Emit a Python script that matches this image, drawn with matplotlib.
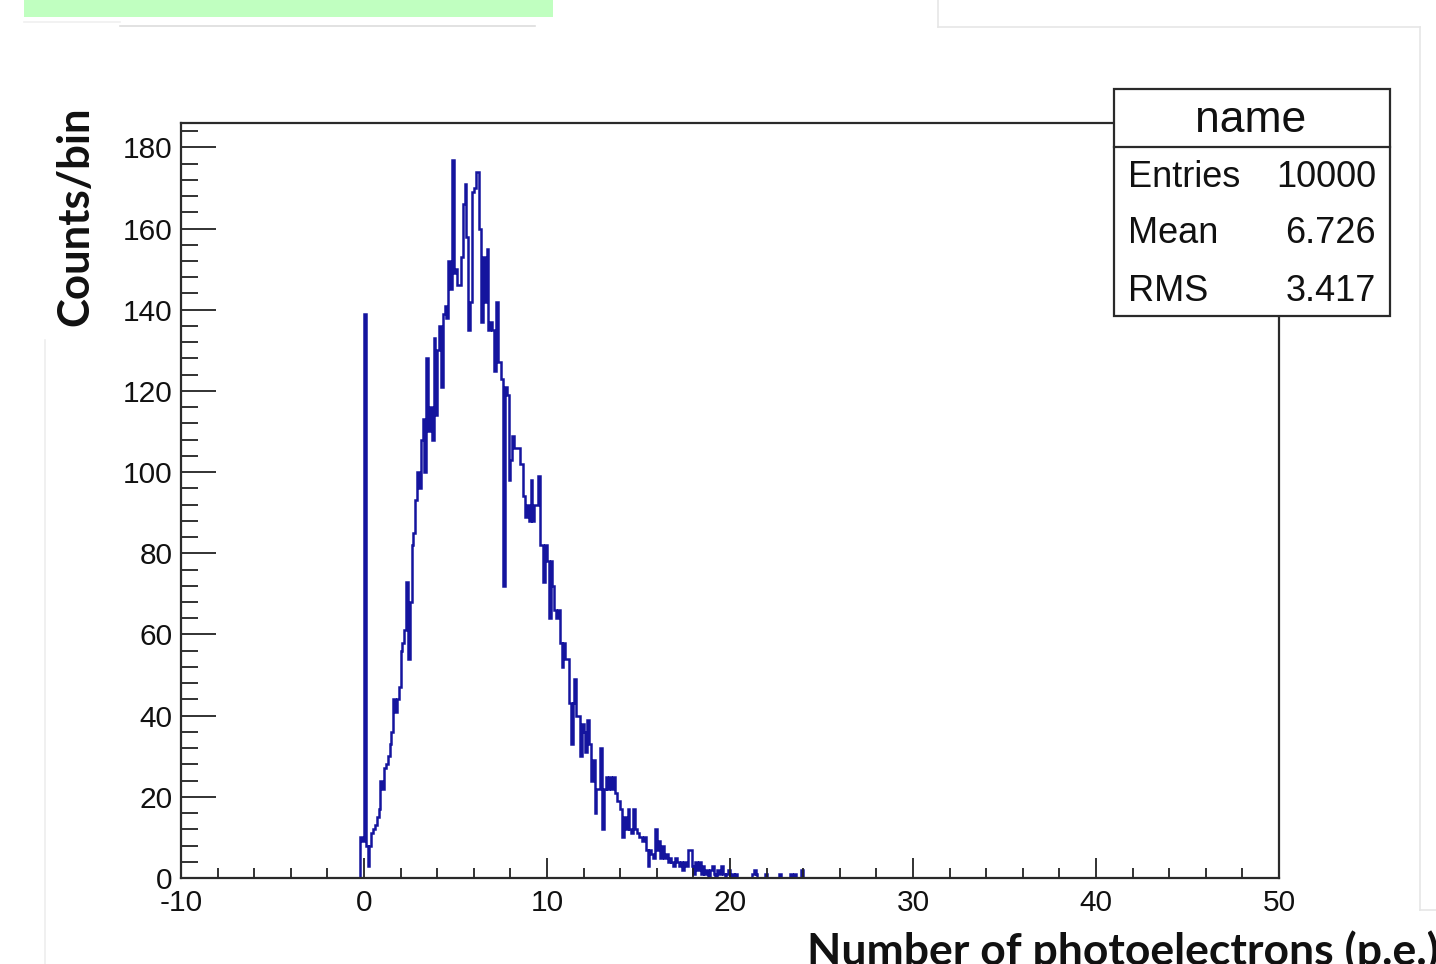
import numpy as np
import matplotlib
matplotlib.use("Agg")
import matplotlib.pyplot as plt
from matplotlib.lines import Line2D
from matplotlib.patches import Rectangle

# ---------------- data ----------------
bin_width = 0.1
first_edge = -0.2
counts = [
    10, 9, 139, 8, 3, 8, 11, 12, 13, 15, 17, 24, 22, 27, 28, 30, 33, 36, 44, 41,   # -0.2 .. 1.7
    44, 47, 56, 58, 61, 73, 54, 68, 82, 85, 93, 100, 96, 108, 113, 100, 128, 110, 116, 108,  # 1.8 .. 3.7
    133, 114, 130, 136, 121, 139, 141, 138, 152, 145, 177, 149, 150, 146, 146, 153, 166, 171, 158, 135,  # 3.8 .. 5.7
    142, 169, 170, 174, 174, 160, 137, 153, 142, 155, 135, 137, 135, 125, 142, 127, 127, 123, 72, 121,  # 5.8 .. 7.7
    119, 98, 103, 109, 106, 106, 106, 102, 102, 94, 89, 92, 88, 98, 88, 92, 92, 99, 82, 82,  # 7.8 .. 9.7
    73, 82, 78, 64, 78, 72, 66, 64, 66, 58, 52, 58, 54, 54, 43, 33, 43, 49, 40, 40,  # 9.8 .. 11.7
    30, 38, 36, 31, 39, 33, 24, 29, 16, 22, 22, 32, 12, 22, 25, 22, 25, 22, 25, 21,  # 11.8 .. 13.7
    19, 19, 17, 10, 15, 12, 17, 12, 11, 17, 12, 11, 10, 10, 9, 10, 7, 3, 7, 6,  # 13.8 .. 15.7
    5, 12, 7, 9, 5, 8, 5, 6, 4, 5, 4, 3, 5, 4, 3, 4, 2, 4, 3, 7,  # 15.8 .. 17.7
    7, 3, 1, 4, 2, 4, 1, 3, 1, 2, 0, 2, 3, 1, 0, 2, 1, 3, 1, 0,  # 17.8 .. 19.7
    1, 2, 0, 1, 0, 1, 0, 0, 0, 0, 0, 0, 0, 0, 1, 2, 1, 0, 0, 0,  # 19.8 .. 21.7
    0, 1, 0, 0, 0, 0, 0, 0, 0, 1, 0, 0, 0, 0, 0, 1, 0, 1, 0, 0,  # 21.8 .. 23.7
    0, 2, 0,  # 23.8 .. 24.0
]
x_ticks = [-10, 0, 10, 20, 30, 40, 50]
y_ticks = [0, 20, 40, 60, 80, 100, 120, 140, 160, 180]
x_label = "Number of photoelectrons (p.e.)"
y_label = "Counts/bin"
stats_title = "name"
stats_names = ["Entries", "Mean", "RMS"]
stats_values = ["10000", "6.726", "3.417"]

# ---------------- figure ----------------
W, H = 1436, 964
fig = plt.figure(figsize=(W / 100, H / 100), dpi=100)
fig.patch.set_facecolor("white")

def fx(px):
    return px / W

def fy(py):
    return 1 - py / H

# screenshot decorations
fig.patches.append(Rectangle((fx(24), fy(17)), fx(553) - fx(24), fy(0) - fy(17),
                             transform=fig.transFigure, facecolor="#C0FFC0", edgecolor="none"))
deco = [((120, 535), (26, 26), "#DDDDDD"), ((24, 120), (22, 22), "#F0F0F0"),
        ((938, 938), (0, 27), "#E6E6E6"), ((938, 1420), (27, 27), "#E6E6E6"),
        ((1420, 1420), (27, 910), "#E6E6E6"), ((1420, 1436), (910, 910), "#E6E6E6"),
        ((45, 45), (340, 964), "#EEEEEE")]
for xs, ys, c in deco:
    fig.add_artist(Line2D([fx(xs[0]), fx(xs[1])], [fy(ys[0]), fy(ys[1])],
                          transform=fig.transFigure, color=c, lw=1.2))

# main axes
L, R, T, B = 181, 1279, 123, 878
ax = fig.add_axes([fx(L), fy(B), fx(R) - fx(L), fy(T) - fy(B)])
ax.set_xlim(-10, 50)
ax.set_ylim(0, 186)

edges = first_edge + bin_width * np.arange(len(counts) + 1)
ax.stairs(counts, edges, baseline=0, color="#14149E", lw=1.8)

for s in ax.spines.values():
    s.set_color("#2A2A2A")
    s.set_linewidth(1.6)

ax.set_xticks(x_ticks)
ax.set_xticklabels([str(v) for v in x_ticks])
ax.set_xticks(np.arange(-10, 51, 2), minor=True)
ax.set_yticks(y_ticks)
ax.set_yticklabels([str(v) for v in y_ticks])
ax.set_yticks(np.arange(0, 186, 4), minor=True)

ax.tick_params(axis="x", which="major", direction="in", length=14.5, width=1.3,
               color="#222222", pad=8, labelsize=21.5)
ax.tick_params(axis="x", which="minor", direction="in", length=7.5, width=1.3, color="#222222")
ax.tick_params(axis="y", which="major", direction="in", length=25, width=1.3,
               color="#222222", pad=6, labelsize=21.5)
ax.tick_params(axis="y", which="minor", direction="in", length=12, width=1.3, color="#222222")
for lab in ax.get_xticklabels() + ax.get_yticklabels():
    lab.set_fontfamily("Liberation Sans")
    lab.set_color("#111111")

# axis titles
fig.text(fx(75), fy(216), y_label, rotation=90, ha="center", va="center",
         fontsize=31.5, fontweight="bold", family="Lato", color="#111111")
fig.text(fx(807), fy(930), x_label, ha="left", va="top",
         fontsize=32, fontweight="bold", family="Lato", color="#111111")

# stats box
bl, br, bt, bb = 1114, 1390, 89, 316
fig.patches.append(Rectangle((fx(bl), fy(bb)), fx(br) - fx(bl), fy(bt) - fy(bb),
                             transform=fig.transFigure, facecolor="white",
                             edgecolor="#2A2A2A", lw=1.6, zorder=5))
fig.add_artist(Line2D([fx(bl), fx(br)], [fy(147), fy(147)], transform=fig.transFigure,
                      color="#2A2A2A", lw=1.6, zorder=6))
fig.text(fx(1251), fy(132), stats_title, ha="center", va="baseline", fontsize=32,
         family="Liberation Sans", color="#111111", zorder=7)
for name, val, base in zip(stats_names, stats_values, [187, 243, 301]):
    fig.text(fx(1128), fy(base), name, ha="left", va="baseline", fontsize=26,
             family="Liberation Sans", color="#111111", zorder=7)
    fig.text(fx(1376), fy(base), val, ha="right", va="baseline", fontsize=26,
             family="Liberation Sans", color="#111111", zorder=7)

fig.savefig("out.png", dpi=100)
